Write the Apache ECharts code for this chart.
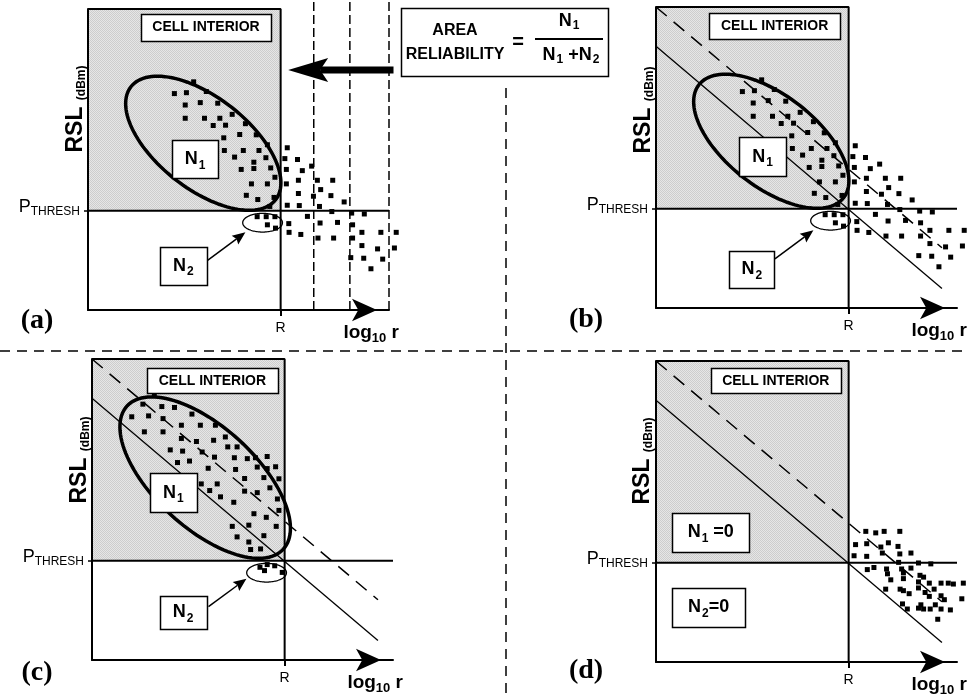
<!DOCTYPE html>
<html>
<head>
<meta charset="utf-8">
<script src="https://cdn.jsdelivr.net/npm/echarts@6/dist/echarts.min.js"></script>
<style>
  html, body { margin: 0; padding: 0; background: #fff; }
  #chart { width: 969px; height: 694px; }
</style>
</head>
<body>
<div id="chart"></div>
<script>
// Area reliability of a cell: received signal level (RSL) against log distance,
// shown for four situations (a)-(d).

// Axis values (both axes run 0..100 in arbitrary units)
const R = 64;          // cell radius on the log10 r axis
const P_THRESH = 33;   // receiver threshold on the RSL axis
const AXIS_MAX = 100;

// Measured RSL samples, panels (a) and (b) share the same measurements
const pointsAB = [
  [35.1, 75.8], [28.7, 71.9], [32.7, 72.2], [39.3, 72.6], [32.3, 68.1], [37.3, 68.9], [43.1, 68.7],
  [32.3, 63.7], [38.7, 63.7], [43.8, 63.7], [47.9, 65.0], [41.6, 61.3], [45.7, 61.4], [52.3, 61.9],
  [45.1, 57.2], [50.4, 58.3], [55.9, 58.2], [45.3, 53.0], [51.6, 53.0], [56.8, 53.0], [59.6, 54.9],
  [48.7, 50.8], [55.1, 49.1], [59.1, 50.6], [50.9, 46.7], [55.1, 47.0], [60.7, 47.2], [62.1, 44.1],
  [54.3, 41.9], [59.6, 41.9], [52.6, 38.1], [61.8, 37.4], [56.4, 36.7], [60.4, 34.4],
  [66.2, 53.9], [65.4, 50.3], [69.6, 50.0], [74.3, 47.8], [65.9, 46.7], [71.2, 46.3], [65.9, 41.9],
  [69.9, 43.1], [76.2, 43.1], [81.3, 43.1], [77.3, 40.0], [69.9, 38.7], [74.9, 37.8], [80.7, 38.0],
  [85.1, 35.9], [66.2, 34.8], [70.2, 34.7], [76.9, 34.4], [81.0, 32.7], [87.6, 32.2], [91.8, 31.9],
  [72.9, 31.1],
  [56.2, 31.0], [59.2, 31.0], [62.1, 31.0], [59.6, 28.3], [62.3, 27.2], [66.7, 28.7], [66.8, 25.8],
  [70.7, 25.1], [77.1, 28.9], [82.9, 29.1], [87.9, 28.3], [76.4, 23.9], [81.6, 23.9], [87.9, 23.9],
  [91.0, 25.8], [97.3, 25.8], [102.4, 25.8], [91.0, 21.4], [96.2, 20.3], [101.8, 20.6], [87.3, 17.4],
  [91.6, 17.2], [97.9, 16.9], [94.0, 13.7]
];

// Samples for panel (c): almost all inside the cell
const pointsC = [
  [20.7, 88.0], [16.9, 85.0], [23.2, 84.2], [27.4, 83.9], [13.2, 80.8], [18.8, 81.1], [23.6, 80.2],
  [33.2, 81.7], [17.4, 75.8], [23.6, 75.8], [29.7, 78.0], [36.0, 78.0], [41.0, 78.0], [29.7, 73.6],
  [34.7, 72.6], [40.4, 73.0], [44.3, 74.1], [26.0, 69.8], [30.1, 69.4], [36.6, 69.1], [45.1, 70.8],
  [48.2, 70.8], [28.4, 65.6], [32.4, 66.1], [40.7, 67.4], [47.3, 67.2], [51.6, 66.9], [54.3, 67.2],
  [58.2, 67.6], [38.6, 63.7], [47.7, 63.3], [54.9, 64.1], [58.2, 63.6], [61.0, 64.2], [36.3, 58.5],
  [39.1, 56.3], [41.6, 58.5], [50.7, 60.3], [57.1, 60.6], [62.1, 60.2], [42.7, 54.2], [47.1, 52.4],
  [50.7, 56.1], [54.9, 55.6], [59.1, 57.2], [61.6, 53.5], [53.8, 48.6], [57.9, 47.4], [62.1, 49.7],
  [46.6, 44.4], [52.1, 44.8], [61.2, 44.4], [48.2, 40.9], [57.1, 41.3], [52.1, 39.2], [52.7, 36.7],
  [56.0, 36.9],
  [55.8, 30.8], [58.2, 31.7], [60.7, 31.3], [57.3, 29.7], [63.2, 29.1]
];

// Samples for panel (d): all measured outside the cell
const pointsD = [
  [69.7, 43.4], [73.0, 42.9], [75.8, 43.4], [81.0, 43.4], [66.3, 39.0], [70.0, 39.3], [74.7, 38.2],
  [77.2, 39.6], [80.4, 38.4], [65.8, 35.3], [70.0, 35.1], [75.2, 36.2], [81.0, 35.9], [84.7, 36.2],
  [80.6, 33.1], [87.2, 32.9], [91.3, 32.6], [70.2, 30.7], [72.4, 31.4], [76.6, 30.9], [76.9, 29.3],
  [81.6, 30.9], [84.7, 31.2], [78.0, 27.3], [82.2, 29.6], [82.2, 27.7], [87.7, 28.8], [88.9, 28.2],
  [87.2, 26.6], [90.8, 26.2], [94.7, 26.2], [97.1, 26.2], [98.8, 25.9], [102.1, 26.2], [76.3, 24.2],
  [81.1, 24.2], [82.2, 23.7], [84.1, 22.7], [87.2, 24.6], [89.4, 23.1], [92.4, 24.2], [90.8, 21.8],
  [94.7, 22.0], [95.8, 20.7], [101.6, 21.0], [81.9, 19.3], [88.0, 19.0], [92.8, 19.0], [83.5, 17.6],
  [87.2, 17.9], [88.9, 17.6], [91.1, 17.6], [94.7, 17.6], [97.8, 17.3], [93.6, 14.2]
];

// Path-loss lines: median through (R, P_THRESH) and the offset line above it
const medianLine = [[0, 87], [95, 6.5]];
const offsetLine = [[0, 100], [95, 20]];

// Distance bins used for the measurements in panel (a)
const rangeBins = [75, 87, 100];

// Ellipses: [centre x, centre y, semi-major, semi-minor, tilt in degrees]
const ellipseN1AB = [38.3, 55.4, 30.5, 15.2, -38];
const ellipseN1C = [37.6, 60.6, 35.2, 16.8, -42.5];
const ellipseN2 = [58, 29, 6.6, 3.1, 0];

// ------------------------------------------------------------------
const SANS = '"Liberation Sans", Arial, Helvetica, sans-serif';
const SERIF = '"Liberation Serif", "Times New Roman", serif';

// Fine grey screen for the cell-interior region
function makeHatch() {
  const c = document.createElement('canvas');
  c.width = 2; c.height = 2;
  const g = c.getContext('2d');
  g.fillStyle = '#e6e6e6';
  g.fillRect(0, 0, 2, 2);
  g.fillStyle = '#cdcdcd';
  g.fillRect(0, 0, 1, 1);
  g.fillRect(1, 1, 1, 1);
  return c;
}
const hatch = { image: makeHatch(), repeat: 'repeat' };

const grids = [
  { left: 88, top: 9, width: 301, height: 301 },
  { left: 656, top: 7, width: 301, height: 301 },
  { left: 92, top: 359, width: 301, height: 301 },
  { left: 656, top: 361, width: 301, height: 301 }
].map(g => Object.assign({ outerBoundsMode: 'none', containLabel: false }, g));

const subRich = {
  l: { fontSize: 19, fontWeight: 'bold', fontFamily: SANS, color: '#000', lineHeight: 19, verticalAlign: 'top' },
  s: { fontSize: 13, fontWeight: 'bold', fontFamily: SANS, color: '#000', lineHeight: 13, verticalAlign: 'top', padding: [9, 0, 0, 0] }
};

const xAxes = grids.map((g, i) => ({
  gridIndex: i, type: 'value', min: 0, max: AXIS_MAX, z: 10,
  axisLine: {
    show: true, symbol: ['none', 'arrow'], symbolSize: [17, 25], symbolOffset: [0, -12],
    lineStyle: { color: '#000', width: 2 }
  },
  axisTick: { show: true, customValues: [R], length: 6, lineStyle: { color: '#000', width: 2 } },
  axisLabel: { show: true, customValues: [R], formatter: 'R', margin: 11, color: '#000', fontSize: 14, fontFamily: SANS },
  splitLine: { show: false },
  name: '{l|log}{s|10}{l| r}', nameLocation: 'end', nameGap: 10, nameMoveOverlap: false,
  nameTextStyle: { align: 'right', verticalAlign: 'top', padding: [13, 0, 0, 0], rich: subRich }
}));

const yAxes = grids.map((g, i) => ({
  gridIndex: i, type: 'value', min: 0, max: AXIS_MAX, z: 10,
  axisLine: { show: true, lineStyle: { color: '#000', width: 2 } },
  axisTick: { show: true, customValues: [P_THRESH], length: 4, lineStyle: { color: '#000', width: 1.5 } },
  axisLabel: {
    show: true, customValues: [P_THRESH], formatter: '{p|P}{s|THRESH}', margin: 8, padding: [0, 0, 8, 0],
    rich: {
      p: { fontSize: 18, fontFamily: SANS, color: '#000', lineHeight: 18, verticalAlign: 'top' },
      s: { fontSize: 12, fontFamily: SANS, color: '#000', lineHeight: 12, verticalAlign: 'top', padding: [8, 0, 0, 0] }
    }
  },
  splitLine: { show: false }
}));

function shadeSeries(i) {
  return {
    type: 'custom', xAxisIndex: i, yAxisIndex: i, z: 1, silent: true,
    data: [[0, P_THRESH, R, AXIS_MAX]],
    renderItem(params, api) {
      const tl = api.coord([api.value(0), api.value(3)]);
      const br = api.coord([api.value(2), api.value(1)]);
      return {
        type: 'rect',
        shape: { x: tl[0], y: tl[1], width: br[0] - tl[0], height: br[1] - tl[1] },
        style: { fill: hatch }
      };
    }
  };
}

function lineSeries(i, data, width, type, z) {
  return {
    type: 'line', xAxisIndex: i, yAxisIndex: i, data, symbol: 'none', silent: true, clip: false,
    z: z || 3, lineStyle: { color: '#000', width, type: type || 'solid' }
  };
}

function frameSeries(i) {
  return [
    lineSeries(i, [[0, AXIS_MAX], [R, AXIS_MAX], [R, 0]], 2),
    lineSeries(i, [[0, P_THRESH], [AXIS_MAX, P_THRESH]], 2)
  ];
}

function pointSeries(i, pts) {
  return {
    type: 'scatter', xAxisIndex: i, yAxisIndex: i, z: 4, silent: true, clip: false,
    symbol: 'rect', symbolSize: 5, itemStyle: { color: '#000', opacity: 1 }, data: pts
  };
}

function ellipseSeries(i, e, width) {
  return {
    type: 'custom', xAxisIndex: i, yAxisIndex: i, z: 6, silent: true, clip: false,
    data: [e],
    renderItem(params, api) {
      const cx = api.value(0), cy = api.value(1), a = api.value(2), b = api.value(3);
      const th = api.value(4) * Math.PI / 180;
      const pts = [];
      for (let k = 0; k < 120; k++) {
        const t = k / 120 * Math.PI * 2;
        pts.push(api.coord([
          cx + a * Math.cos(th) * Math.cos(t) - b * Math.sin(th) * Math.sin(t),
          cy + a * Math.sin(th) * Math.cos(t) + b * Math.cos(th) * Math.sin(t)
        ]));
      }
      return { type: 'polygon', shape: { points: pts }, style: { fill: null, stroke: '#000', lineWidth: width } };
    }
  };
}

function arrowSeries(i, seg, o) {
  return {
    type: 'custom', xAxisIndex: i, yAxisIndex: i, z: 7, silent: true, clip: false,
    data: [seg],
    renderItem(params, api) {
      const a = api.coord([api.value(0), api.value(1)]);
      const b = api.coord([api.value(2), api.value(3)]);
      const dx = b[0] - a[0], dy = b[1] - a[1], L = Math.hypot(dx, dy);
      const ux = dx / L, uy = dy / L, nx = -uy, ny = ux;
      const bx = b[0] - ux * o.head, by = b[1] - uy * o.head;
      const mx = bx + ux * o.notch, my = by + uy * o.notch;
      return {
        type: 'group',
        children: [
          { type: 'line', shape: { x1: a[0], y1: a[1], x2: mx, y2: my }, style: { stroke: '#000', lineWidth: o.shaft } },
          {
            type: 'polygon',
            shape: { points: [b, [bx + nx * o.half, by + ny * o.half], [mx, my], [bx - nx * o.half, by - ny * o.half]] },
            style: { fill: '#000' }
          }
        ]
      };
    }
  };
}

const boxRich = {
  c: { fontSize: 14, fontWeight: 'bold', fontFamily: SANS, fill: '#000' },
  n: { fontSize: 18, fontWeight: 'bold', fontFamily: SANS, fill: '#000', lineHeight: 18, verticalAlign: 'top' },
  s: { fontSize: 12, fontWeight: 'bold', fontFamily: SANS, fill: '#000', lineHeight: 12, verticalAlign: 'top', padding: [9, 0, 0, 1] }
};

// White labelled boxes anchored at a data position, sized in pixels
function boxSeries(i, items) {
  return {
    type: 'custom', xAxisIndex: i, yAxisIndex: i, z: 8, silent: true, clip: false,
    data: items.map(b => b.at),
    renderItem(params, api) {
      const b = items[params.dataIndex];
      const c = api.coord([api.value(0), api.value(1)]);
      const x = Math.round(c[0] - b.size[0] / 2) + 0.5;
      const y = Math.round(c[1] - b.size[1] / 2) + 0.5;
      return {
        type: 'group',
        children: [
          { type: 'rect', shape: { x, y, width: b.size[0], height: b.size[1] }, style: { fill: '#fff', stroke: '#000', lineWidth: 1.5 } },
          { type: 'text', x: c[0], y: c[1], style: { text: b.text, rich: boxRich, align: 'center', verticalAlign: 'middle', fill: '#000' } }
        ]
      };
    }
  };
}

const CELL = '{c|CELL INTERIOR}';
const N1 = '{n|N}{s|1}';
const N2 = '{n|N}{s|2}';
const smallArrow = { shaft: 1.5, head: 13, half: 5.5, notch: 2 };

const series = [];
for (let i = 0; i < 4; i++) {
  series.push(shadeSeries(i));
  series.push(...frameSeries(i));
}

// (a) measurements binned by distance
rangeBins.forEach(x => series.push(lineSeries(0, [[x, 0], [x, 102.3]], 1.5, [9, 4], 3)));
series.push(pointSeries(0, pointsAB));
series.push(ellipseSeries(0, ellipseN1AB, 3.5));
series.push(ellipseSeries(0, ellipseN2, 1.3));
series.push(arrowSeries(0, [39.5, 16.3, 52.3, 25.8], smallArrow));
series.push(arrowSeries(0, [101.5, 79.7, 66.5, 79.7], { shaft: 7, head: 40, half: 12, notch: 8 }));
series.push(boxSeries(0, [
  { at: [39.2, 93.9], size: [130, 27], text: CELL },
  { at: [35.6, 50.1], size: [46, 38], text: N1 },
  { at: [31.7, 14.7], size: [47, 38], text: N2 }
]));

// (b) same samples with median and offset path-loss lines
series.push(pointSeries(1, pointsAB));
series.push(lineSeries(1, medianLine, 1.3, 'solid', 5));
series.push(lineSeries(1, offsetLine, 1.5, [14, 9], 5));
series.push(ellipseSeries(1, ellipseN1AB, 3.5));
series.push(ellipseSeries(1, ellipseN2, 1.3));
series.push(arrowSeries(1, [39.5, 16.3, 52.3, 25.8], smallArrow));
series.push(boxSeries(1, [
  { at: [39.4, 93.6], size: [131, 26], text: CELL },
  { at: [35.4, 50.2], size: [47, 39], text: N1 },
  { at: [31.8, 12.8], size: [45, 37], text: N2 }
]));

// (c)
series.push(pointSeries(2, pointsC));
series.push(lineSeries(2, medianLine, 1.3, 'solid', 5));
series.push(lineSeries(2, offsetLine, 1.5, [14, 9], 5));
series.push(ellipseSeries(2, ellipseN1C, 3.5));
series.push(ellipseSeries(2, ellipseN2, 1.3));
series.push(arrowSeries(2, [38.7, 17.7, 51.3, 27.0], smallArrow));
series.push(boxSeries(2, [
  { at: [40.0, 92.8], size: [131, 25], text: CELL },
  { at: [27.0, 55.5], size: [47, 39], text: N1 },
  { at: [30.3, 15.8], size: [47, 33], text: N2 }
]));

// (d)
series.push(pointSeries(3, pointsD));
series.push(lineSeries(3, medianLine, 1.3, 'solid', 5));
series.push(lineSeries(3, offsetLine, 1.5, [14, 9], 5));
series.push(boxSeries(3, [
  { at: [39.8, 93.4], size: [130, 25], text: CELL },
  { at: [18.2, 43.1], size: [77, 39], text: '{n|N}{s|1}{n| =0}' },
  { at: [17.5, 18.2], size: [73, 39], text: '{n|N}{s|2}{n|=0}' }
]));

// ------------------------------------------------------------------
const dash = { stroke: '#000', lineWidth: 1.5, lineDash: [10, 7] };
const rslRich = {
  r: { fontSize: 23, fontWeight: 'bold', fontFamily: SANS, fill: '#000', verticalAlign: 'bottom' },
  d: { fontSize: 12, fontWeight: 'bold', fontFamily: SANS, fill: '#000', verticalAlign: 'bottom' }
};
const fracRich = {
  n: { fontSize: 18, fontWeight: 'bold', fontFamily: SANS, fill: '#000', lineHeight: 18, verticalAlign: 'top' },
  s: { fontSize: 12, fontWeight: 'bold', fontFamily: SANS, fill: '#000', lineHeight: 12, verticalAlign: 'top', padding: [8, 0, 0, 1] }
};

function rslLabel(x, y) {
  return {
    type: 'text', x, y, rotation: Math.PI / 2,
    style: { text: '{r|RSL }{d|(dBm)}', rich: rslRich, align: 'center', verticalAlign: 'middle', fill: '#000' }
  };
}
function panelLetter(t, x, y) {
  return {
    type: 'text', x, y,
    style: { text: t, fontSize: 28, fontWeight: 'bold', fontFamily: SERIF, fill: '#000', align: 'center', verticalAlign: 'middle' }
  };
}
function boldText(t, x, y, size) {
  return {
    type: 'text', x, y,
    style: { text: t, fontSize: size, fontWeight: 'bold', fontFamily: SANS, fill: '#000', align: 'center', verticalAlign: 'middle' }
  };
}

const graphic = [
  { type: 'line', shape: { x1: 0, y1: 351, x2: 969, y2: 351 }, style: dash },
  { type: 'line', shape: { x1: 506, y1: 88, x2: 506, y2: 694 }, style: dash },
  { type: 'rect', z: 20, shape: { x: 401.5, y: 8.5, width: 207, height: 68 }, style: { fill: '#fff', stroke: '#000', lineWidth: 1.5 } },
  Object.assign(boldText('AREA', 455, 31, 16), { z: 21 }),
  Object.assign(boldText('RELIABILITY', 455, 55, 16), { z: 21 }),
  Object.assign(boldText('=', 518, 42, 20), { z: 21 }),
  { type: 'text', z: 21, x: 569, y: 21, style: { text: '{n|N}{s|1}', rich: fracRich, align: 'center', verticalAlign: 'middle' } },
  { type: 'line', z: 21, shape: { x1: 535, y1: 39, x2: 603, y2: 39 }, style: { stroke: '#000', lineWidth: 2 } },
  { type: 'text', z: 21, x: 571, y: 55, style: { text: '{n|N}{s|1}{n| +N}{s|2}', rich: fracRich, align: 'center', verticalAlign: 'middle' } },
  rslLabel(76, 109), rslLabel(644, 110), rslLabel(80, 460), rslLabel(643, 461),
  panelLetter('(a)', 37, 321), panelLetter('(b)', 586, 320), panelLetter('(c)', 37, 673), panelLetter('(d)', 586, 671)
];

const chart = echarts.init(document.getElementById('chart'), null, { renderer: 'canvas' });
chart.setOption({
  animation: false,
  backgroundColor: '#fff',
  grid: grids,
  xAxis: xAxes,
  yAxis: yAxes,
  series,
  graphic
});
</script>
</body>
</html>
